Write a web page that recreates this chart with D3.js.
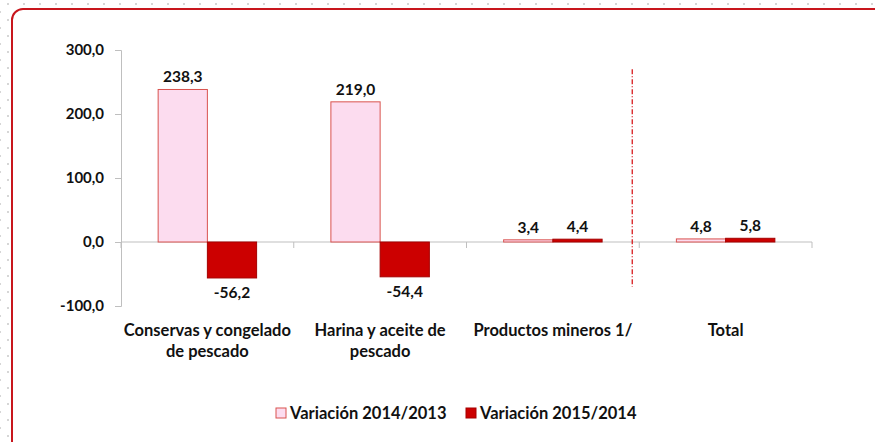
<!DOCTYPE html>
<html>
<head>
<meta charset="utf-8">
<script src="https://cdn.jsdelivr.net/npm/d3@7"></script>
<style>
  body { margin: 0; background: #fff; }
  svg { display: block; font-family: Lato, "Open Sans", sans-serif; font-weight: bold; }
</style>
</head>
<body>
<div id="chart"></div>
<script>
// --------------- Data ---------------
const categories = [
  ["Conservas y congelado", "de pescado"],
  ["Harina y aceite de", "pescado"],
  ["Productos mineros 1/"],
  ["Total"],
];
const variacion2014 = [238.3, 219.0, 3.4, 4.8];
const variacion2015 = [-56.2, -54.4, 4.4, 5.8];
const seriesNames = ["Variación 2014/2013", "Variación 2015/2014"];
const yTicks = [-100, 0, 100, 200, 300];

// --------------- Constants ---------------
const WIDTH = 875;
const HEIGHT = 442;
const PLOT = { left: 121, right: 812, top: 50, bottom: 306 };
const PINK = "#fcdcef";
const PINK_STROKE = "#d9534f";
const RED = "#cc0000";
const RED_STROKE = "#a50000";
const AXIS_COLOR = "#bfbfbf";

const fmt = (v) => v.toFixed(1).replace(".", ",");

const svg = d3
  .select("#chart")
  .append("svg")
  .attr("width", WIDTH)
  .attr("height", HEIGHT);

// dotted background + red rounded frame
const pattern = svg
  .append("defs")
  .append("pattern")
  .attr("id", "dots")
  .attr("width", 16)
  .attr("height", 16)
  .attr("patternUnits", "userSpaceOnUse");
pattern.append("rect").attr("x", 7).attr("y", 3).attr("width", 2).attr("height", 2).attr("fill", "#d6d6d6");
pattern.append("rect").attr("x", -1).attr("y", 11).attr("width", 2).attr("height", 2).attr("fill", "#d6d6d6");

svg.append("rect").attr("width", WIDTH).attr("height", HEIGHT).attr("fill", "url(#dots)");
svg
  .append("rect")
  .attr("x", 12)
  .attr("y", 9)
  .attr("width", WIDTH + 20)
  .attr("height", HEIGHT + 20)
  .attr("rx", 11)
  .attr("fill", "#fff")
  .attr("stroke", "#c8161d")
  .attr("stroke-width", 2);

// --------------- Scales ---------------
const x = d3
  .scaleBand()
  .domain(d3.range(categories.length))
  .range([PLOT.left, PLOT.right]);

const y = d3.scaleLinear().domain([-100, 300]).range([PLOT.bottom, PLOT.top]);

const groupWidth = x.bandwidth() * 0.57;
const barWidth = groupWidth / 2;

// --------------- Axes ---------------
const yAxis = svg
  .append("g")
  .attr("transform", `translate(${PLOT.left},0)`)
  .call(d3.axisLeft(y).tickValues(yTicks).tickSize(6).tickPadding(11).tickFormat(fmt));
yAxis.select(".domain").attr("stroke", AXIS_COLOR);
yAxis.selectAll(".tick line").attr("stroke", AXIS_COLOR);
yAxis
  .selectAll(".tick text")
  .attr("font-size", 15)
  .attr("font-family", "Lato, sans-serif")
  .attr("fill", "#111");

const xAxis = svg.append("g").attr("transform", `translate(0,${y(0)})`);
xAxis
  .append("line")
  .attr("x1", PLOT.left)
  .attr("x2", PLOT.right)
  .attr("stroke", AXIS_COLOR);
xAxis
  .selectAll("line.tick")
  .data(d3.range(categories.length + 1))
  .join("line")
  .attr("class", "tick")
  .attr("x1", (d) => PLOT.left + d * x.step())
  .attr("x2", (d) => PLOT.left + d * x.step())
  .attr("y1", 0)
  .attr("y2", 6)
  .attr("stroke", AXIS_COLOR);

// --------------- Bars ---------------
const series = [
  { values: variacion2014, fill: PINK, stroke: PINK_STROKE, offset: 0 },
  { values: variacion2015, fill: RED, stroke: RED_STROKE, offset: 1 },
];

series.forEach((s) => {
  const g = svg.append("g");
  const barX = (i) => x(i) + (x.bandwidth() - groupWidth) / 2 + s.offset * barWidth;
  g.selectAll("rect")
    .data(s.values)
    .join("rect")
    .attr("x", (d, i) => barX(i))
    .attr("y", (d) => y(Math.max(0, d)))
    .attr("width", barWidth)
    .attr("height", (d) => Math.abs(y(d) - y(0)))
    .attr("fill", s.fill)
    .attr("stroke", s.stroke)
    .attr("stroke-width", 1);

  g.selectAll("text")
    .data(s.values)
    .join("text")
    .attr("x", (d, i) => barX(i) + barWidth / 2)
    .attr("y", (d) => (d >= 0 ? y(d) - 7 : y(d) + 20))
    .attr("text-anchor", "middle")
    .attr("font-size", 15.5)
    .attr("fill", "#111")
    .text((d) => fmt(d));
});

// dash-dot separator before "Total"
svg
  .append("line")
  .attr("x1", x(3) - 7)
  .attr("x2", x(3) - 7)
  .attr("y1", y(270))
  .attr("y2", y(-70))
  .attr("stroke", "#d7191c")
  .attr("stroke-width", 1.3)
  .attr("stroke-dasharray", "5,2,1,2");

// --------------- Category labels ---------------
svg
  .append("g")
  .selectAll("text")
  .data(categories)
  .join("text")
  .attr("x", (d, i) => x(i) + x.bandwidth() / 2)
  .attr("y", 336)
  .attr("text-anchor", "middle")
  .attr("font-size", 16.5)
  .attr("fill", "#111")
  .selectAll("tspan")
  .data((d) => d)
  .join("tspan")
  .attr("x", function () {
    return this.parentNode.getAttribute("x");
  })
  .attr("dy", (d, i) => (i === 0 ? 0 : 21))
  .text((d) => d);

// --------------- Legend ---------------
const legend = svg.append("g").attr("transform", "translate(276,413)");
const legendItems = legend
  .selectAll("g")
  .data(seriesNames)
  .join("g")
  .attr("transform", (d, i) => `translate(${i * 190},0)`);
legendItems
  .append("rect")
  .attr("x", 0)
  .attr("y", -5)
  .attr("width", 10)
  .attr("height", 10)
  .attr("fill", (d, i) => series[i].fill)
  .attr("stroke", (d, i) => series[i].stroke);
legendItems
  .append("text")
  .attr("x", 14)
  .attr("y", 6)
  .attr("font-size", 16.5)
  .attr("fill", "#111")
  .text((d) => d);
</script>
</body>
</html>
